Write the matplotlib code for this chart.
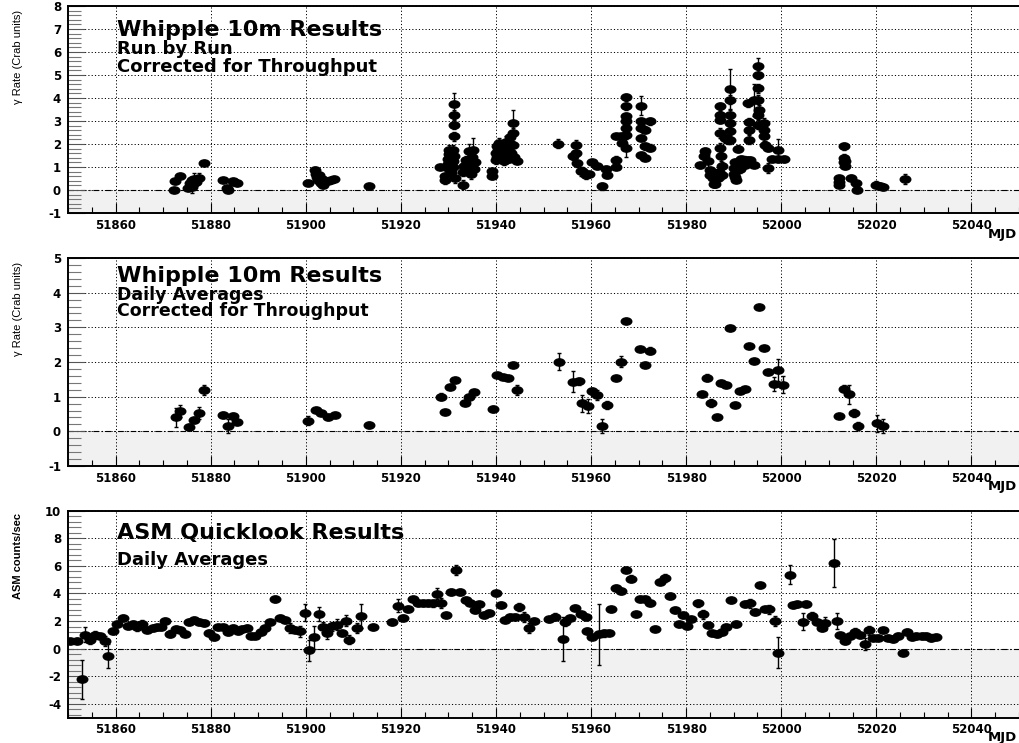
import numpy as np
import matplotlib
matplotlib.use('Agg')
import matplotlib.pyplot as plt
from matplotlib.path import Path
from matplotlib.transforms import Affine2D
from matplotlib.ticker import MultipleLocator, StrMethodFormatter

plt.rcParams['axes.unicode_minus'] = False
plt.rcParams['font.family'] = ['DejaVu Sans']

# ---------------- Whipple run-by-run ----------------
run_mjd = [51872.3, 51872.5, 51873.6, 51875.3, 51875.7, 51876.0, 51876.1, 51876.3, 51876.5, 51877.0,
           51877.6, 51878.6, 51882.5, 51883.5, 51883.6, 51884.6, 51885.0, 51885.6,
           51900.4, 51902.0, 51902.2, 51902.3, 51902.5, 51902.8, 51903.0, 51903.3, 51903.5, 51903.6,
           51904.0, 51904.6, 51905.3, 51906.0, 51913.4,
           51928.3, 51929.2, 51929.3, 51929.9, 51930.0, 51930.0, 51930.1, 51930.2, 51930.9, 51931.0,
           51931.1, 51931.1, 51931.1, 51931.1, 51931.0, 51931.2, 51931.3, 51930.5, 51933.0, 51933.1,
           51933.2, 51933.4, 51933.6, 51934.0, 51934.1, 51934.3, 51934.5, 51934.7, 51935.1, 51935.3,
           51935.5, 51935.0,
           51939.2, 51939.2, 51940.0, 51940.1, 51940.2, 51940.3, 51940.5, 51940.7, 51941.0, 51941.2,
           51941.5, 51941.7, 51942.0, 51942.2, 51942.5, 51942.7, 51943.0, 51943.2, 51943.5, 51943.5,
           51943.6, 51943.7, 51944.5,
           51953.1, 51956.1, 51956.8, 51956.9, 51957.1, 51957.8, 51958.2, 51958.9, 51959.6, 51960.3,
           51961.3, 51962.2, 51963.2, 51963.3, 51965.2, 51965.2, 51965.3, 51966.2, 51966.6,
           51967.3, 51967.3, 51967.3, 51967.3, 51967.3, 51967.3, 51967.4,
           51970.4, 51970.4, 51970.4, 51970.4, 51970.4, 51971.3, 51971.3, 51971.4, 51972.3, 51972.3,
           51983.0, 51983.8, 51984.0, 51984.6, 51985.0, 51985.1, 51985.6, 51985.8, 51986.0, 51986.8,
           51986.9, 51987.2, 51987.2, 51987.2, 51987.2, 51987.2, 51987.3, 51987.5, 51987.5, 51988.2,
           51988.9, 51989.3, 51989.3, 51989.3, 51989.3, 51989.3, 51989.3, 51990.0, 51990.1, 51990.2,
           51990.3, 51990.5, 51990.6, 51991.0, 51991.2, 51991.4, 51991.6, 51992.1, 51992.4, 51992.8,
           51993.1, 51993.3, 51993.3, 51993.3, 51993.5, 51994.2, 51994.2, 51995.2, 51995.2, 51995.2,
           51995.2, 51995.2, 51995.2, 51995.3, 51996.3, 51996.3, 51996.3, 51996.6, 51997.3, 51997.3,
           51998.0, 51999.3, 51999.3, 52000.5,
           52012.1, 52012.1, 52012.2, 52013.2, 52013.2, 52013.3, 52013.4, 52013.5, 52014.7, 52015.8,
           52016.0, 52019.9, 52020.8, 52021.5, 52026.1]
run_rate = [0.00, 0.38, 0.59, 0.09, 0.30, 0.15, 0.42, 0.25, 0.48, 0.35,
            0.52, 1.17, 0.45, 0.09, 0.01, 0.41, 0.35, 0.29,
            0.30, 0.85, 0.70, 0.55, 0.42, 0.65, 0.40, 0.30, 0.50, 0.20,
            0.38, 0.40, 0.45, 0.47, 0.19,
            1.00, 0.59, 0.45, 0.95, 1.15, 1.35, 1.55, 1.75, 1.00, 1.25,
            3.75, 3.28, 2.84, 2.33, 1.75, 1.50, 0.52, 0.80, 0.23, 0.80,
            1.05, 0.95, 1.30, 0.85, 1.10, 1.68, 1.30, 0.70, 1.75, 0.90,
            1.20, 1.45,
            0.81, 0.59, 1.30, 1.60, 1.90, 1.45, 1.75, 2.05, 1.40, 1.65,
            1.90, 1.25, 1.55, 2.10, 1.80, 1.35, 2.30, 1.60, 2.91, 2.48,
            1.95, 1.45, 1.25,
            2.01, 1.46, 1.96, 1.61, 1.17, 0.81, 0.81, 0.67, 0.70, 1.20,
            1.03, 0.16, 0.91, 0.67, 1.32, 1.00, 2.33, 2.33, 2.04,
            4.03, 3.64, 3.20, 2.99, 2.41, 1.83, 2.70,
            3.67, 2.99, 2.70, 2.26, 1.54, 2.62, 1.90, 1.39, 2.99, 1.83,
            1.07, 1.50, 1.68, 1.25, 0.86, 0.67, 0.52, 0.25, 0.28, 0.52,
            0.77, 3.64, 3.28, 3.06, 2.48, 1.83, 1.46, 1.03, 0.67, 2.26,
            2.19, 4.39, 3.93, 3.28, 2.91, 2.55, 2.19, 0.70, 0.95, 1.20,
            0.55, 0.45, 0.85, 1.80, 1.10, 0.90, 1.35, 1.32, 1.10, 1.32,
            3.78, 2.94, 2.62, 2.19, 1.32, 3.93, 1.10, 5.38, 5.01, 4.43,
            3.93, 3.28, 2.84, 3.49, 2.91, 2.62, 2.33, 1.97, 1.83, 0.96,
            1.35, 1.75, 1.35, 1.35,
            0.52, 0.33, 0.23, 1.90, 1.40, 1.20, 1.05, 1.25, 0.52, 0.30,
            0.02, 0.23, 0.19, 0.13, 0.48]
run_err = [0.05, 0.10, 0.08, 0.10, 0.10, 0.30, 0.15, 0.20, 0.25, 0.10,
           0.20, 0.08, 0.05, 0.05, 0.05, 0.08, 0.05, 0.05,
           0.06, 0.15, 0.10, 0.10, 0.10, 0.10, 0.10, 0.10, 0.08, 0.10,
           0.08, 0.05, 0.05, 0.05, 0.05,
           0.08, 0.15, 0.20, 0.15, 0.15, 0.15, 0.15, 0.20, 0.15, 0.15,
           0.45, 0.20, 0.20, 0.20, 0.20, 0.20, 0.20, 0.15, 0.20, 0.20,
           0.20, 0.20, 0.20, 0.20, 0.20, 0.30, 0.20, 0.20, 0.50, 0.15,
           0.15, 0.20,
           0.10, 0.10, 0.15, 0.15, 0.15, 0.20, 0.20, 0.20, 0.15, 0.20,
           0.20, 0.15, 0.20, 0.25, 0.20, 0.15, 0.20, 0.20, 0.55, 0.20,
           0.20, 0.15, 0.08,
           0.20, 0.15, 0.20, 0.20, 0.15, 0.20, 0.20, 0.20, 0.10, 0.10,
           0.10, 0.15, 0.15, 0.15, 0.15, 0.10, 0.10, 0.10, 0.10,
           0.15, 0.15, 0.15, 0.15, 0.15, 0.40, 0.15,
           0.40, 0.15, 0.15, 0.15, 0.10, 0.15, 0.15, 0.10, 0.15, 0.15,
           0.10, 0.20, 0.15, 0.30, 0.15, 0.15, 0.15, 0.10, 0.10, 0.15,
           0.15, 0.15, 0.15, 0.15, 0.20, 0.20, 0.20, 0.20, 0.20, 0.20,
           0.20, 0.85, 0.20, 0.20, 0.20, 0.20, 0.20, 0.15, 0.15, 0.15,
           0.10, 0.10, 0.15, 0.15, 0.15, 0.15, 0.15, 0.15, 0.15, 0.10,
           0.15, 0.20, 0.20, 0.20, 0.10, 0.70, 0.10, 0.35, 0.20, 0.20,
           0.20, 0.20, 0.20, 0.20, 0.20, 0.20, 0.20, 0.15, 0.15, 0.20,
           0.15, 0.45, 0.15, 0.15,
           0.10, 0.10, 0.10, 0.15, 0.15, 0.15, 0.15, 0.10, 0.15, 0.10,
           0.10, 0.15, 0.10, 0.15, 0.20]

# ---------------- Whipple daily averages ----------------
day_mjd = [51872.7, 51873.6, 51875.5, 51876.5, 51877.6, 51878.5, 51882.5, 51883.6, 51884.6, 51885.6,
           51900.4, 51902.2, 51903.3, 51904.7, 51906.1, 51913.4,
           51928.5, 51929.3, 51930.3, 51931.3, 51933.4, 51934.4, 51935.3, 51939.3, 51940.3, 51941.4,
           51942.5, 51943.5, 51944.5, 51953.3, 51956.3, 51957.4, 51958.2, 51959.3, 51960.3, 51961.3,
           51962.4, 51963.3, 51965.3, 51966.4, 51967.3, 51970.2, 51971.3, 51972.3,
           51983.3, 51984.3, 51985.3, 51986.4, 51987.3, 51988.3, 51989.3, 51990.3, 51991.3, 51992.3,
           51993.3, 51994.3, 51995.4, 51996.4, 51997.3, 51998.4, 51999.4, 52000.4,
           52012.2, 52013.2, 52014.2, 52015.2, 52016.2, 52020.1, 52021.5]
day_rate = [0.40, 0.59, 0.13, 0.33, 0.54, 1.19, 0.47, 0.16, 0.44, 0.28,
            0.31, 0.62, 0.52, 0.42, 0.47, 0.18,
            1.00, 0.57, 1.27, 1.48, 0.81, 0.98, 1.13, 0.65, 1.62, 1.57,
            1.54, 1.91, 1.19, 2.01, 1.43, 1.45, 0.81, 0.73, 1.16, 1.05,
            0.16, 0.76, 1.55, 2.01, 3.18, 2.38, 1.92, 2.32,
            1.08, 1.55, 0.81, 0.42, 1.40, 1.33, 2.97, 0.75, 1.15, 1.21,
            2.47, 2.04, 3.60, 2.40, 1.71, 1.36, 1.77, 1.35,
            0.43, 1.23, 1.07, 0.52, 0.15, 0.23, 0.16]
day_err = [0.28, 0.17, 0.08, 0.08, 0.17, 0.15, 0.08, 0.20, 0.10, 0.05,
           0.12, 0.05, 0.05, 0.08, 0.05, 0.08,
           0.10, 0.05, 0.05, 0.05, 0.05, 0.05, 0.05, 0.08, 0.05, 0.05,
           0.05, 0.05, 0.15, 0.25, 0.30, 0.10, 0.25, 0.20, 0.10, 0.15,
           0.20, 0.12, 0.05, 0.15, 0.05, 0.05, 0.05, 0.10,
           0.05, 0.10, 0.12, 0.05, 0.05, 0.05, 0.05, 0.05, 0.05, 0.05,
           0.05, 0.05, 0.05, 0.05, 0.05, 0.20, 0.33, 0.25,
           0.05, 0.10, 0.27, 0.12, 0.12, 0.25, 0.20]

# ---------------- RXTE ASM daily averages ----------------
asm_mjd = [51850.5, 51851.9, 51852.9, 51853.6, 51854.7, 51855.7, 51856.8, 51857.7, 51858.5, 51859.4,
           51860.4, 51861.5, 51862.6, 51863.6, 51864.6, 51865.5, 51866.7, 51867.8, 51868.7, 51869.6,
           51870.5, 51871.5, 51872.7, 51873.6, 51874.6, 51875.5, 51876.5, 51877.6, 51878.7, 51879.7,
           51880.6, 51881.6, 51882.7, 51883.6, 51884.6, 51885.7, 51886.6, 51887.6, 51888.4, 51889.4,
           51890.5, 51891.5, 51892.4, 51893.6, 51894.5, 51895.6, 51896.6, 51897.7, 51898.7, 51899.8,
           51900.6, 51901.7, 51902.7, 51903.6, 51904.5, 51905.6, 51906.6, 51907.6, 51908.4, 51909.2,
           51910.8, 51911.7, 51914.1, 51918.1, 51919.4, 51920.4, 51921.5, 51922.5, 51923.6, 51924.6,
           51925.7, 51926.7, 51927.6, 51928.5, 51929.5, 51930.6, 51931.6, 51932.5, 51933.6, 51934.5,
           51935.5, 51936.5, 51937.4, 51938.5, 51940.0, 51941.0, 51942.0, 51943.0, 51944.0, 51944.9,
           51945.9, 51946.9, 51948.0, 51951.2, 51952.4, 51954.0, 51954.6, 51955.5, 51956.6, 51957.8,
           51958.9, 51959.1, 51960.3, 51961.7, 51962.7, 51963.8, 51964.3, 51965.3, 51966.4, 51967.3,
           51968.3, 51969.4, 51970.2, 51971.3, 51972.3, 51973.4, 51974.4, 51975.5, 51976.6, 51977.6,
           51978.4, 51979.3, 51980.2, 51981.0, 51982.5, 51983.5, 51984.6, 51985.4, 51986.5, 51987.5,
           51988.4, 51989.5, 51990.5, 51992.4, 51993.5, 51994.5, 51995.6, 51996.5, 51997.5, 51998.6,
           51999.4, 52001.9, 52002.4, 52003.3, 52004.5, 52005.2, 52006.4, 52007.5, 52008.5, 52009.2,
           52011.0, 52011.7, 52012.4, 52013.4, 52014.5, 52015.5, 52016.6, 52017.6, 52018.5, 52019.4,
           52020.4, 52021.5, 52022.5, 52023.4, 52024.5, 52025.5, 52026.4, 52027.4, 52028.4, 52029.5,
           52030.5, 52031.5, 52032.5]
asm_rate = [0.58, 0.58, -2.23, 1.00, 0.65, 1.00, 0.89, 0.53, -0.55, 1.29,
            1.80, 2.20, 1.65, 1.77, 1.60, 1.80, 1.37, 1.49, 1.53, 1.53,
            2.01, 1.08, 1.41, 1.37, 1.08, 1.92, 2.09, 1.92, 1.85, 1.13,
            0.84, 1.53, 1.53, 1.18, 1.49, 1.29, 1.41, 1.49, 0.94, 0.94,
            1.18, 1.49, 1.90, 3.60, 2.25, 2.09, 1.49, 1.37, 1.25, 2.61,
            -0.12, 0.82, 2.52, 1.56, 1.13, 1.61, 1.73, 1.13, 2.01, 0.65,
            1.49, 2.37, 1.56, 1.92, 3.12, 2.25, 2.88, 3.57, 3.29, 3.29,
            3.29, 3.29, 3.96, 3.29, 2.40, 4.12, 5.68, 4.12, 3.53, 3.33,
            2.81, 3.21, 2.45, 2.57, 4.00, 3.17, 2.10, 2.30, 2.30, 3.00,
            2.30, 1.50, 2.00, 2.12, 2.31, 0.72, 1.92, 2.24, 2.96, 2.48,
            2.31, 1.27, 0.87, 1.03, 1.10, 1.15, 2.84, 4.40, 4.16, 5.72,
            5.05, 2.48, 3.60, 3.60, 3.32, 1.44, 4.85, 5.10, 3.80, 2.79,
            1.75, 2.43, 1.63, 2.12, 3.27, 2.48, 1.68, 1.10, 1.03, 1.20,
            1.59, 3.50, 1.80, 3.25, 3.27, 2.67, 4.59, 2.84, 2.84, 2.00,
            -0.29, 5.36, 3.13, 3.20, 1.95, 3.25, 2.36, 1.95, 1.47, 1.83,
            6.20, 2.00, 0.96, 0.55, 0.91, 1.23, 0.96, 0.31, 1.32, 0.79,
            0.79, 1.32, 0.79, 0.67, 0.91, -0.29, 1.20, 0.84, 0.91, 0.91,
            0.91, 0.79, 0.87]
asm_err = [0.10, 0.20, 1.40, 0.55, 0.35, 0.30, 0.20, 0.35, 0.85, 0.20,
           0.20, 0.20, 0.20, 0.20, 0.35, 0.30, 0.20, 0.20, 0.20, 0.20,
           0.20, 0.25, 0.20, 0.20, 0.20, 0.20, 0.20, 0.20, 0.20, 0.20,
           0.20, 0.20, 0.20, 0.20, 0.20, 0.20, 0.20, 0.20, 0.20, 0.20,
           0.20, 0.20, 0.20, 0.20, 0.20, 0.20, 0.35, 0.20, 0.40, 0.60,
           0.75, 0.85, 0.50, 0.35, 0.40, 0.30, 0.40, 0.25, 0.40, 0.30,
           0.35, 0.85, 0.20, 0.20, 0.50, 0.20, 0.20, 0.20, 0.20, 0.20,
           0.20, 0.25, 0.40, 0.35, 0.20, 0.20, 0.35, 0.20, 0.20, 0.20,
           0.20, 0.20, 0.20, 0.20, 0.20, 0.20, 0.20, 0.20, 0.20, 0.30,
           0.35, 0.35, 0.20, 0.20, 0.25, 1.60, 0.30, 0.20, 0.20, 0.20,
           0.20, 0.20, 0.20, 2.20, 0.25, 0.20, 0.20, 0.20, 0.20, 0.20,
           0.25, 0.20, 0.20, 0.20, 0.20, 0.20, 0.20, 0.30, 0.20, 0.20,
           0.20, 0.20, 0.20, 0.20, 0.25, 0.30, 0.20, 0.20, 0.20, 0.20,
           0.20, 0.20, 0.20, 0.20, 0.35, 0.20, 0.20, 0.20, 0.30, 0.35,
           1.15, 0.70, 0.20, 0.20, 0.60, 0.20, 0.30, 0.20, 0.20, 0.45,
           1.73, 0.55, 0.20, 0.20, 0.20, 0.25, 0.20, 0.45, 0.35, 0.20,
           0.20, 0.20, 0.20, 0.20, 0.20, 0.20, 0.20, 0.20, 0.20, 0.20,
           0.20, 0.25, 0.20]

xticks_step, xminor_step = 20, 5
panel_titles = ["Whipple 10m Results", "Whipple 10m Results", "ASM Quicklook Results"]
panel_subtitles = ["Run by Run\nCorrected for Throughput",
                   "Daily Averages\nCorrected for Throughput",
                   "Daily Averages"]
ylabels = ["\u03b3 Rate (Crab units)", "\u03b3 Rate (Crab units)", "ASM counts/sec"]

W, H = 1019, 743
fig = plt.figure(figsize=(W / 100, H / 100), dpi=100)
fig.patch.set_facecolor('white')


def make_axes(top_px, bottom_px):
    return fig.add_axes([68 / W, 1 - bottom_px / H, 1 - 68 / W, (bottom_px - top_px) / H])


ax1 = make_axes(6, 213)
ax2 = make_axes(258, 466)
ax3 = make_axes(510.7, 717.5)

ellipse = Path.unit_circle().transformed(Affine2D().scale(1.45, 1.0))


def style(ax, ylo, yhi, ymaj, ymin):
    ax.set_xlim(51850, 52050)
    ax.set_ylim(ylo, yhi)
    ax.axhspan(ylo, 0, color='#f1f1f1', lw=0, zorder=0)
    ax.xaxis.set_major_locator(MultipleLocator(xticks_step))
    ax.xaxis.set_minor_locator(MultipleLocator(xminor_step))
    ax.yaxis.set_major_locator(MultipleLocator(ymaj))
    ax.yaxis.set_minor_locator(MultipleLocator(ymin))
    ax.xaxis.set_major_formatter(StrMethodFormatter('{x:.0f}'))
    ax.yaxis.set_major_formatter(StrMethodFormatter('{x:.0f}'))
    ax.grid(True, which='major', color='black', linestyle=(0, (1.2, 2.2)), lw=0.7, zorder=0.5)
    ax.axhline(0, color='black', lw=0.8, linestyle=(0, (5, 2.5, 1.2, 2.5)), zorder=0.6)
    ax.tick_params(axis='x', which='major', direction='in', length=7, width=0.8,
                   top=False, labelsize=8.5, pad=4)
    ax.tick_params(axis='x', which='minor', direction='in', length=4, width=0.8, top=False)
    ax.tick_params(axis='y', which='major', direction='in', length=12, width=0.8,
                   right=False, labelsize=8.5, pad=5, color='#555555')
    ax.tick_params(axis='y', which='minor', direction='in', length=9, width=0.8,
                   right=False, color='#777777')
    for lab in ax.get_xticklabels() + ax.get_yticklabels():
        lab.set_fontweight('bold')
    ax.spines['right'].set_visible(False)
    for s in ('left', 'top', 'bottom'):
        ax.spines[s].set_linewidth(1.4)


def draw(ax, x, y, e):
    ax.errorbar(x, y, yerr=e, fmt='none', ecolor='black', elinewidth=1.0,
                capsize=1.6, capthick=1.0, zorder=2)
    ax.plot(x, y, linestyle='none', marker=ellipse, markersize=7.6,
            color='black', zorder=3)


style(ax1, -1, 8, 1, 0.2)
style(ax2, -1, 5, 1, 0.2)
style(ax3, -5, 10, 2, 0.4)
draw(ax1, run_mjd, run_rate, run_err)
draw(ax2, day_mjd, day_rate, day_err)
draw(ax3, asm_mjd, asm_rate, asm_err)

# titles (baseline pixel positions) and subtitles
title_base = [35.5, 282.5, 539]
sub_base = [54, 299.5, 565]
sub_spacing = [0.95, 0.82, 1.0]
sub_size = [13, 12.5, 13]
for t, s, tb, sb, ls, ss in zip(panel_titles, panel_subtitles, title_base, sub_base,
                                sub_spacing, sub_size):
    fig.text(117 / W, 1 - tb / H, t, fontsize=16, fontweight='bold',
             va='baseline', ha='left', zorder=5)
    # top anchored so first line baseline lands near sb
    fig.text(117 / W, 1 - (sb - 0.76 * ss * 100 / 72) / H, s, fontsize=ss, fontweight='bold',
             va='top', ha='left', linespacing=ls, zorder=5)

# x-axis "MJD" labels at bottom-right of each panel
for yb in (238, 490, 741):
    fig.text(1017 / W, 1 - yb / H, 'MJD', fontsize=9.5, fontweight='bold',
             ha='right', va='baseline')

# y labels
for lab, top_px in zip(ylabels, [10, 262, 513]):
    weight = 'bold' if lab.startswith('ASM') else 'normal'
    fig.text(18 / W, 1 - top_px / H, lab, rotation=90, ha='center', va='top',
             fontsize=8, fontweight=weight,
             family=['Liberation Sans Narrow', 'Liberation Sans', 'DejaVu Sans'])

fig.savefig('out.png', dpi=100)
